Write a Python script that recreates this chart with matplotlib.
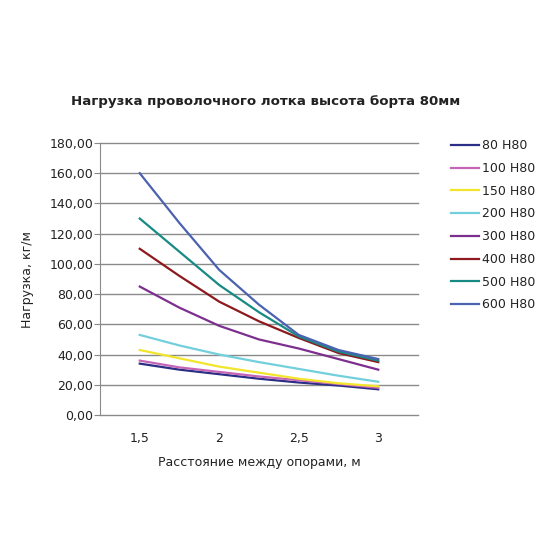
import matplotlib
matplotlib.use("Agg")
import matplotlib.pyplot as plt

# spans between supports, m
spans = [1.5, 1.75, 2.0, 2.25, 2.5, 2.75, 3.0]

# load, kg/m, one list per tray width
load_80 = [34, 30, 27, 24, 21.5, 19.5, 17]
load_100 = [36, 31.5, 28.5, 25.5, 23, 20.5, 18]
load_150 = [43, 37.5, 32, 28, 24, 21, 19]
load_200 = [53, 46, 40, 35, 30.5, 26, 22]
load_300 = [85, 71, 59, 50, 44, 37, 30]
load_400 = [110, 92, 75, 62, 51, 41, 35]
load_500 = [130, 108, 86, 68, 52, 42, 36]
load_600 = [160, 127, 96, 73, 53, 43, 37]

series_labels = ["80 H80", "100 H80", "150 H80", "200 H80",
                 "300 H80", "400 H80", "500 H80", "600 H80"]
colors = ["#2B2E85", "#C665B5", "#F2E52B", "#72CFDC",
          "#7D2F8F", "#8C1A1E", "#178A83", "#4A62B0"]

y_ticks = [0, 20, 40, 60, 80, 100, 120, 140, 160, 180]
x_ticks = [1.5, 2, 2.5, 3]
x_tick_labels = ["1,5", "2", "2,5", "3"]

plt.rcParams["font.family"] = ["DejaVu Sans"]

fig = plt.figure(figsize=(5.5, 5.5), dpi=100)
ax = fig.add_axes([100 / 550, 1 - 415 / 550, 318 / 550, 272 / 550])

all_loads = [load_80, load_100, load_150, load_200,
             load_300, load_400, load_500, load_600]
for vals, lab, col in zip(all_loads, series_labels, colors):
    ax.plot(spans, vals, color=col, lw=1.6, label=lab)

ax.set_xlim(1.25, 3.25)
ax.set_ylim(0, 180)
ax.set_yticks(y_ticks)
ax.set_yticklabels([f"{v:.2f}".replace(".", ",") for v in y_ticks])
ax.set_xticks(x_ticks)
ax.set_xticklabels(x_tick_labels)
ax.grid(axis="y", color="#8a8a8a", lw=1)
for gl in ax.get_ygridlines():
    gl.set_clip_on(False)
ax.set_axisbelow(True)
for s in ["top", "right", "bottom"]:
    ax.spines[s].set_visible(False)
ax.spines["left"].set_color("#8a8a8a")
ax.tick_params(axis="y", length=4, color="#8a8a8a", labelsize=9, labelcolor="#222222", pad=1)
ax.tick_params(axis="x", length=0, labelsize=9, labelcolor="#222222", pad=12)

ax.set_ylabel("Нагрузка, кг/м", fontsize=9, color="#222222", labelpad=11)
ax.set_xlabel("Расстояние между опорами, м", fontsize=9, color="#222222", labelpad=8)

fig.text(266 / 550, 1 - 101 / 550, "Нагрузка проволочного лотка высота борта 80мм",
         ha="center", va="center", fontsize=9.6, fontweight="bold", color="#222222")

fig.legend(loc="upper left", bbox_to_anchor=(440 / 550, 1 - 128 / 550), frameon=False,
           fontsize=9, handlelength=2.2, handletextpad=0.25, labelspacing=0.78,
           labelcolor="#222222")

fig.savefig("out.png", dpi=100, facecolor="white")
